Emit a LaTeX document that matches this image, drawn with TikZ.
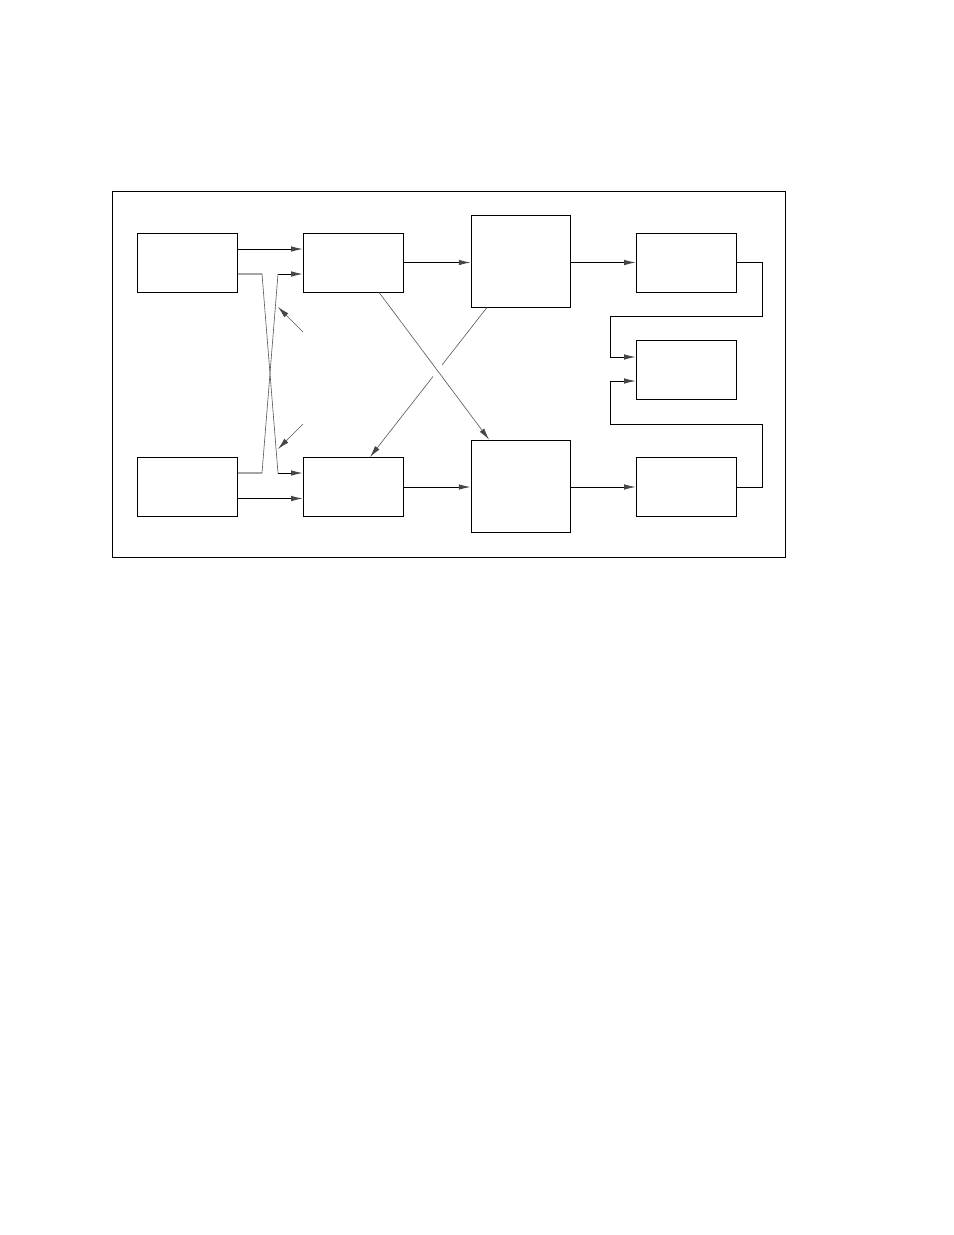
\documentclass[tikz,border=0pt]{standalone}
\usetikzlibrary{arrows.meta}
\begin{document}
\begin{tikzpicture}[x=0.6415pt,y=-0.6415pt,
  blk/.style={draw,line width=0.6pt,minimum width=64.5pt,minimum height=37.8pt,inner sep=0pt},
  bigblk/.style={blk,minimum width=63.5pt,minimum height=59pt},
  arr/.style={line width=0.6pt,-{Latex[length=7.5pt,width=3.6pt,color=gray!55!black]}},
  faint/.style={gray!70!black,line width=0.4pt}]
\useasboundingbox (0,0) rectangle (954,1235);
\draw[line width=0.6pt] (112,191) rectangle (785,557);
% blocks
\node[blk] (srcA) at (187.5,262.5) {};
\node[blk] (srcB) at (187.5,487) {};
\node[blk] (mixA) at (353.5,262.5) {};
\node[blk] (mixB) at (353.5,487) {};
\node[bigblk] (procA) at (520.5,261) {};
\node[bigblk] (procB) at (520.5,486) {};
\node[blk] (outA) at (686.5,262.5) {};
\node[blk] (comb) at (686.5,370) {};
\node[blk] (outB) at (686.5,487) {};
% straight feeds
\draw[arr] ([yshift=8.66pt]srcA.east) -- ([yshift=8.66pt]srcA.east -| mixA.west);
\draw[arr] ([yshift=-7.38pt]srcB.east) -- ([yshift=-7.38pt]srcB.east -| mixB.west);
\draw[arr] (mixA.east) -- (mixA.east -| procA.west);
\draw[arr] (mixB.east) -- (mixB.east -| procB.west);
\draw[arr] (procA.east |- outA.west) -- (outA.west);
\draw[arr] (procB.east |- outB.west) -- (outB.west);
% crossed feeds
\coordinate (ka) at (262,274);
\coordinate (kb) at (278,473);
\coordinate (kc) at (262,473);
\coordinate (kd) at (278,274);
\draw[line width=0.6pt] ([yshift=-7.38pt]srcA.east) -- (ka);
\draw[faint] (ka) -- (kb);
\draw[arr] (kb) -- (kb -| mixB.west);
\draw[line width=0.6pt] ([yshift=8.98pt]srcB.east) -- (kc);
\draw[faint] (kc) -- (kd);
\draw[arr] (kd) -- (kd -| mixA.west);
\coordinate (pa) at (303,332);
\coordinate (pb) at (303,424);
\draw[arr,faint] (pa) -- (278,307);
\draw[arr,faint] (pb) -- (278,449);
% cross links
\draw[arr,faint] ([xshift=-21.5pt]procA.south) -- ([xshift=10.6pt]mixB.north);
\draw[white,line width=9pt,shorten <=40pt,shorten >=38pt] ([xshift=16.4pt]mixA.south) -- ([xshift=-20.2pt]procB.north);
\draw[arr,faint] ([xshift=16.4pt]mixA.south) -- ([xshift=-20.2pt]procB.north);
% loops into the combiner
\draw[arr] (outA.east) -- ++(25,0) |- (610,316) |- ([yshift=8.34pt]comb.west);
\draw[arr] (outB.east) -- ++(25,0) |- (610,424) |- ([yshift=-7.06pt]comb.west);
\end{tikzpicture}
\end{document}
